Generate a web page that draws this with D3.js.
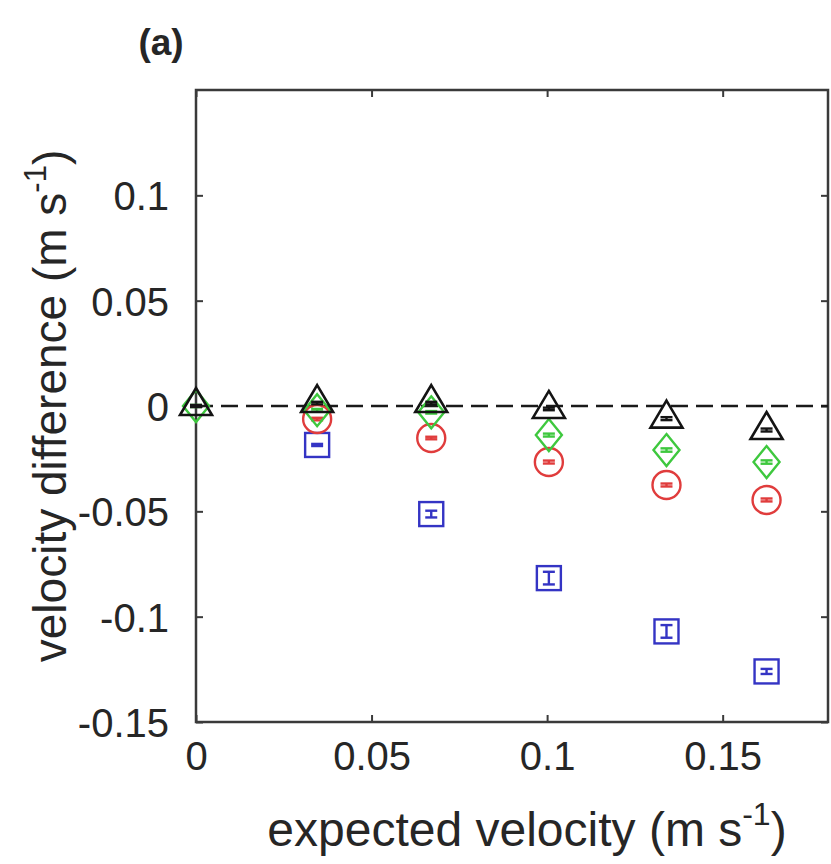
<!DOCTYPE html>
<html>
<head>
<meta charset="utf-8">
<script src="https://cdn.jsdelivr.net/npm/d3@7"></script>
<style>
  html, body { margin: 0; padding: 0; background: #fff; }
  svg { display: block; }
  text { font-family: "Liberation Sans", Arial, sans-serif; fill: #262626; }
</style>
</head>
<body>
<script>
// ---- data ----
const expectedVelocity = [0, 0.0345, 0.067, 0.1005, 0.134, 0.1625];
const triangleDiff = [0, 0.0014, 0.0014, -0.0014, -0.006, -0.0114];
const triangleErr  = [0.0005, 0.0006, 0.0006, 0.0006, 0.0007, 0.0007];
const diamondDiff  = [0, -0.002, -0.003, -0.0138, -0.0209, -0.0266];
const diamondErr   = [0.0005, 0.0006, 0.0006, 0.0007, 0.0008, 0.0008];
const circleDiff   = [null, -0.0062, -0.0152, -0.0266, -0.0375, -0.0446];
const circleErr    = [0, 0.0006, 0.0006, 0.0007, 0.0007, 0.0007];
const squareDiff   = [null, -0.0185, -0.0513, -0.0817, -0.107, -0.126];
const squareErr    = [0, 0.0005, 0.0016, 0.003, 0.003, 0.0012];
const xTicks = [0, 0.05, 0.1, 0.15];
const yTicks = [-0.15, -0.1, -0.05, 0, 0.05, 0.1];
const xDomain = [0, 0.18];
const yDomain = [-0.15, 0.15];
const panelLabel = "(a)";
const xTitle = "expected velocity (m s";
const yTitle = "velocity difference (m s";
const unitSup = "-1";

// ---- layout ----
const W = 831, H = 864;
const mLeft = 196, mRight = 828, mTop = 90, mBottom = 722;

const svg = d3.select("body").append("svg").attr("width", W).attr("height", H);
svg.append("rect").attr("width", W).attr("height", H).attr("fill", "#fff");

const x = d3.scaleLinear().domain(xDomain).range([mLeft, mRight]);
const y = d3.scaleLinear().domain(yDomain).range([mBottom, mTop]);

// axes with inward ticks on all four sides
const axisColor = "#3a3a3a";
const fmt = v => String(v);
const tickLen = 7;

const gB = svg.append("g").attr("transform", `translate(0,${mBottom})`)
  .call(d3.axisBottom(x).tickValues(xTicks).tickFormat(fmt).tickSizeInner(-tickLen).tickSizeOuter(0));
const gT = svg.append("g").attr("transform", `translate(0,${mTop})`)
  .call(d3.axisTop(x).tickValues(xTicks).tickFormat("").tickSizeInner(-tickLen).tickSizeOuter(0));
const gL = svg.append("g").attr("transform", `translate(${mLeft},0)`)
  .call(d3.axisLeft(y).tickValues(yTicks).tickFormat(fmt).tickSizeInner(-tickLen).tickSizeOuter(0).tickPadding(27));
const gR = svg.append("g").attr("transform", `translate(${mRight},0)`)
  .call(d3.axisRight(y).tickValues(yTicks).tickFormat("").tickSizeInner(-tickLen).tickSizeOuter(0));

[gB, gT, gL, gR].forEach(g => {
  g.select(".domain").remove();
  g.selectAll(".tick line").attr("stroke", axisColor).attr("stroke-width", 2);
  g.selectAll(".tick text").attr("font-size", 40).attr("fill", "#262626")
    .style("font-family", "'Liberation Sans', Arial, sans-serif");
});
gB.selectAll(".tick text").attr("dy", null).attr("y", 48);
gL.selectAll(".tick text").attr("dy", "0.36em");

// box
svg.append("rect").attr("x", mLeft).attr("y", mTop)
  .attr("width", mRight - mLeft).attr("height", mBottom - mTop)
  .attr("fill", "none").attr("stroke", axisColor).attr("stroke-width", 2.5);

// zero dashed line
svg.append("line")
  .attr("x1", x(xDomain[0])).attr("x2", x(xDomain[1]))
  .attr("y1", y(0)).attr("y2", y(0))
  .attr("stroke", "#1a1a1a").attr("stroke-width", 2.5)
  .attr("stroke-dasharray", "17,8");

// ---- series ----
function drawSeries(vals, errs, color, shape) {
  const pts = expectedVelocity.map((v, i) => ({ x: v, y: vals[i], e: errs[i] }))
    .filter(d => d.y !== null);
  const g = svg.append("g");
  const cap = 6;
  pts.forEach(d => {
    const cx = x(d.x), cy = y(d.y);
    if (shape === "circle") {
      g.append("circle").attr("cx", cx).attr("cy", cy).attr("r", 14)
        .attr("fill", "none").attr("stroke", color).attr("stroke-width", 2.4);
    } else if (shape === "square") {
      g.append("rect").attr("x", cx - 12).attr("y", cy - 12).attr("width", 24).attr("height", 24)
        .attr("fill", "none").attr("stroke", color).attr("stroke-width", 2.4);
    } else if (shape === "diamond") {
      g.append("path").attr("d", `M${cx},${cy - 16}L${cx + 13},${cy}L${cx},${cy + 16}L${cx - 13},${cy}Z`)
        .attr("fill", "none").attr("stroke", color).attr("stroke-width", 2.4);
    } else if (shape === "triangle") {
      g.append("path").attr("d", `M${cx},${cy - 18}L${cx + 16},${cy + 9}L${cx - 16},${cy + 9}Z`)
        .attr("fill", "none").attr("stroke", color).attr("stroke-width", 2.6);
    }
    const y1 = y(d.y + d.e), y2 = y(d.y - d.e);
    g.append("line").attr("x1", cx).attr("x2", cx).attr("y1", y1).attr("y2", y2)
      .attr("stroke", color).attr("stroke-width", 2.4);
    [y1, y2].forEach(yy => g.append("line")
      .attr("x1", cx - cap).attr("x2", cx + cap).attr("y1", yy).attr("y2", yy)
      .attr("stroke", color).attr("stroke-width", 2.4));
  });
}

drawSeries(squareDiff, squareErr, "#3434c4", "square");
drawSeries(circleDiff, circleErr, "#e03c3c", "circle");
drawSeries(diamondDiff, diamondErr, "#3ec83e", "diamond");
drawSeries(triangleDiff, triangleErr, "#141414", "triangle");

// ---- titles ----
const xt = svg.append("text").attr("x", 527).attr("y", 846)
  .attr("text-anchor", "middle").attr("font-size", 48);
xt.append("tspan").text(xTitle);
xt.append("tspan").attr("font-size", 32).attr("dy", -21).text(unitSup);
xt.append("tspan").attr("dy", 21).text(")");

const yt = svg.append("text")
  .attr("transform", `translate(66,${(mTop + mBottom) / 2}) rotate(-90)`)
  .attr("text-anchor", "middle").attr("font-size", 46);
yt.append("tspan").text(yTitle);
yt.append("tspan").attr("font-size", 31).attr("dy", -20).text(unitSup);
yt.append("tspan").attr("dy", 20).text(")");

svg.append("text").attr("x", 161).attr("y", 55).attr("text-anchor", "middle")
  .attr("font-size", 37).attr("font-weight", "bold").attr("fill", "#111")
  .text(panelLabel);
</script>
</body>
</html>
